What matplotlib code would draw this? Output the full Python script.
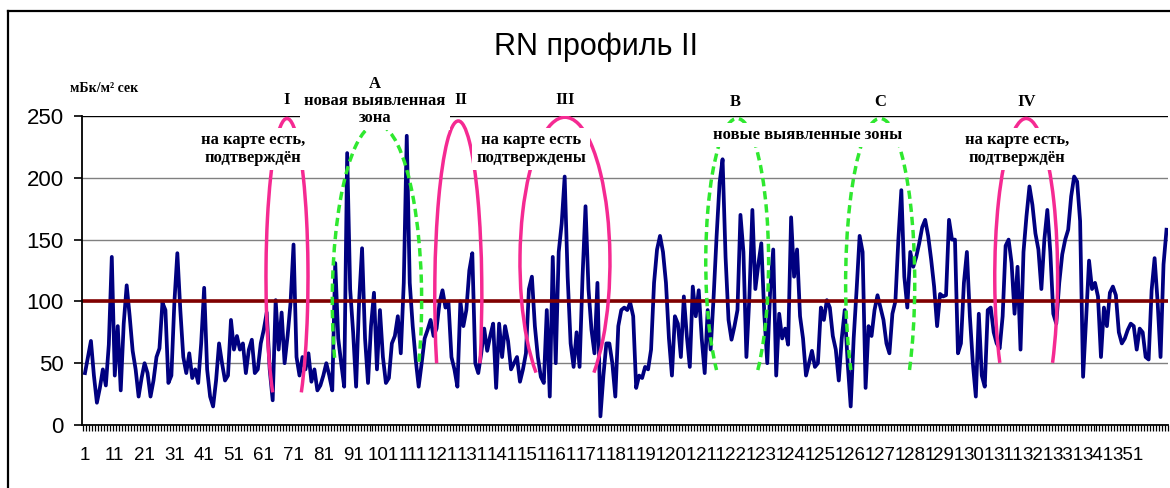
import numpy as np
import matplotlib
matplotlib.use("Agg")
import matplotlib.pyplot as plt
from matplotlib.patches import Arc
from matplotlib.lines import Line2D

plt.rcParams['font.family'] = ['Liberation Sans', 'DejaVu Sans']

# RN flux along profile II, mBq/m2 s, one value per measuring point
rn_001_060 = [42, 55, 68, 40, 18, 30, 45, 32, 65, 136,
              40, 80, 28, 82, 113, 88, 60, 45, 23, 38,
              50, 42, 23, 36, 55, 62, 99, 93, 34, 40,
              99, 139, 93, 55, 42, 58, 38, 45, 34, 66,
              111, 45, 23, 15, 36, 66, 50, 36, 40, 85,
              61, 72, 61, 66, 42, 61, 69, 42, 45, 66]
rn_061_120 = [77, 91, 45, 20, 101, 61, 91, 50, 72, 99,
              146, 55, 40, 55, 45, 58, 35, 45, 28, 32,
              40, 50, 40, 28, 131, 70, 50, 31, 220, 110,
              75, 31, 100, 143, 70, 34, 80, 107, 45, 93,
              55, 34, 38, 66, 72, 88, 58, 115, 234, 115,
              80, 53, 31, 50, 70, 77, 85, 72, 78, 99]
rn_121_180 = [109, 95, 99, 55, 45, 31, 100, 80, 93, 125,
              139, 50, 42, 58, 78, 60, 72, 82, 30, 82,
              55, 80, 68, 45, 50, 55, 35, 45, 58, 110,
              120, 80, 55, 39, 34, 93, 23, 136, 50, 140,
              163, 201, 120, 66, 47, 75, 47, 120, 177, 110,
              77, 58, 115, 7, 40, 66, 66, 50, 23, 80]
rn_181_240 = [93, 95, 93, 99, 88, 30, 40, 38, 47, 45,
              61, 115, 142, 153, 140, 115, 70, 40, 88, 82,
              55, 104, 72, 47, 112, 88, 109, 70, 42, 93,
              61, 104, 153, 196, 215, 136, 85, 69, 80, 93,
              170, 140, 55, 104, 174, 110, 130, 147, 90, 50,
              110, 142, 40, 90, 70, 78, 65, 168, 120, 142]
rn_241_300 = [88, 70, 40, 50, 60, 47, 50, 95, 85, 101,
              95, 72, 61, 36, 70, 93, 50, 15, 70, 110,
              153, 140, 30, 80, 72, 93, 105, 95, 85, 66,
              58, 90, 100, 150, 190, 120, 95, 140, 128, 136,
              147, 160, 166, 153, 134, 112, 80, 106, 104, 105,
              166, 150, 150, 58, 66, 115, 140, 88, 50, 23]
rn_301_364 = [90, 40, 31, 93, 95, 75, 66, 62, 88, 145,
              150, 131, 90, 128, 61, 140, 169, 193, 178, 155,
              142, 110, 150, 174, 140, 90, 82, 115, 138, 150,
              158, 185, 201, 197, 165, 39, 85, 133, 110, 115,
              104, 55, 95, 80, 107, 112, 105, 75, 66, 70,
              77, 82, 80, 61, 78, 75, 55, 53, 109, 135,
              100, 55, 130, 158]

background_level = 100
y_ticks = [0, 50, 100, 150, 200, 250]

rn = np.array(rn_001_060 + rn_061_120 + rn_121_180 + rn_181_240 + rn_241_300 + rn_301_364)
points = np.arange(1, len(rn) + 1)
label_points = points[:355:10]

W, H = 1170, 488


def fx(px):
    return px / W


def fy(py):
    return 1 - py / H


fig = plt.figure(figsize=(W / 100, H / 100), dpi=100)
ax = fig.add_axes([fx(82), fy(425), 1086 / W, 309 / H])

ax.plot(points, rn, color='#000080', lw=2.7, zorder=3)
ax.axhline(background_level, color='#800000', lw=2.6, zorder=4)

ax.set_xlim(0, len(rn) + 0.5)
ax.set_ylim(0, 250)
ax.set_yticks(y_ticks)
ax.yaxis.grid(True, color='#808080', lw=1)
ax.set_axisbelow(True)
ax.axhline(250, color='black', lw=1.6, zorder=2)

for s in ['top', 'right']:
    ax.spines[s].set_visible(False)
for s in ['left', 'bottom']:
    ax.spines[s].set_linewidth(1.3)
    ax.spines[s].set_zorder(6)

ax.set_xticks(label_points)
ax.set_xticklabels([str(p) for p in label_points])
ax.set_xticks(np.arange(0.5, len(rn) + 1, 1), minor=True)
ax.tick_params(axis='x', which='major', length=0, pad=16, labelsize=13.5)
ax.tick_params(axis='x', which='minor', length=4, width=0.9, direction='out')
ax.tick_params(axis='y', length=6, width=1.2, pad=7, labelsize=16)

# zones marked on the profile: centre point, centre value, width, height, colour, dashed, cut angle
pink = '#f52a92'
green = '#2fe82f'
zones = [
    (68.8, 120, 14.1, 256, pink, False, -47),
    (99.0, 100, 30.0, 286, green, True, -20),
    (126.3, 105, 15.8, 282, pink, False, -23),
    (162.1, 132, 30.2, 234, pink, False, -50),
    (219.9, 132, 21.1, 232, green, True, -49),
    (267.9, 115, 23.2, 266, green, True, -32),
    (316.9, 120, 21.1, 256, pink, False, -33),
]
for cx, cy, w, h, col, dashed, cut in zones:
    t1, t2 = np.radians(cut), np.radians(180 - cut)
    g1 = np.degrees(np.arctan2(h * np.sin(t1), w * np.cos(t1)))
    g2 = np.degrees(np.arctan2(h * np.sin(t2), w * np.cos(t2)))
    ls = (0, (2.4, 1.4)) if dashed else '-'
    ax.add_patch(Arc((cx, cy), w, h, theta1=g1, theta2=g2, color=col,
                     lw=2.5, linestyle=ls, zorder=5))

# texts
fig.text(fx(596), fy(47), "RN профиль II", ha='center', va='center', fontsize=22)
serif = ['Liberation Serif', 'DejaVu Serif']
fig.text(fx(70), fy(88), "мБк/м² сек", ha='left', va='center', fontsize=10,
         family=serif, weight='bold')

box = dict(facecolor='white', edgecolor='none', pad=3)
notes = [
    (287, 100, "I", None),
    (461, 100, "II", None),
    (565, 100, "III", None),
    (735, 102, "B", None),
    (880, 102, "C", None),
    (1027, 102, "IV", None),
    (375, 101, "A\nновая выявленная\nзона", box),
    (253, 149, "на карте есть,\nподтверждён", box),
    (531, 149, "на карте есть\nподтверждены", box),
    (808, 135, "новые выявленные зоны", box),
    (1017, 149, "на карте есть,\nподтверждён", box),
]
for px, py, txt, bb in notes:
    t = fig.text(fx(px), fy(py), txt, ha='center', va='center', fontsize=12,
                 family=serif, weight='bold', linespacing=1.1, zorder=10)
    if bb:
        t.set_bbox(bb)

# outer chart frame
fig.add_artist(Line2D([fx(8), fx(8)], [0, fy(11)], color='black', lw=1.6))
fig.add_artist(Line2D([fx(8), 1], [fy(11), fy(11)], color='black', lw=1.6))

fig.savefig("out.png", dpi=100)
